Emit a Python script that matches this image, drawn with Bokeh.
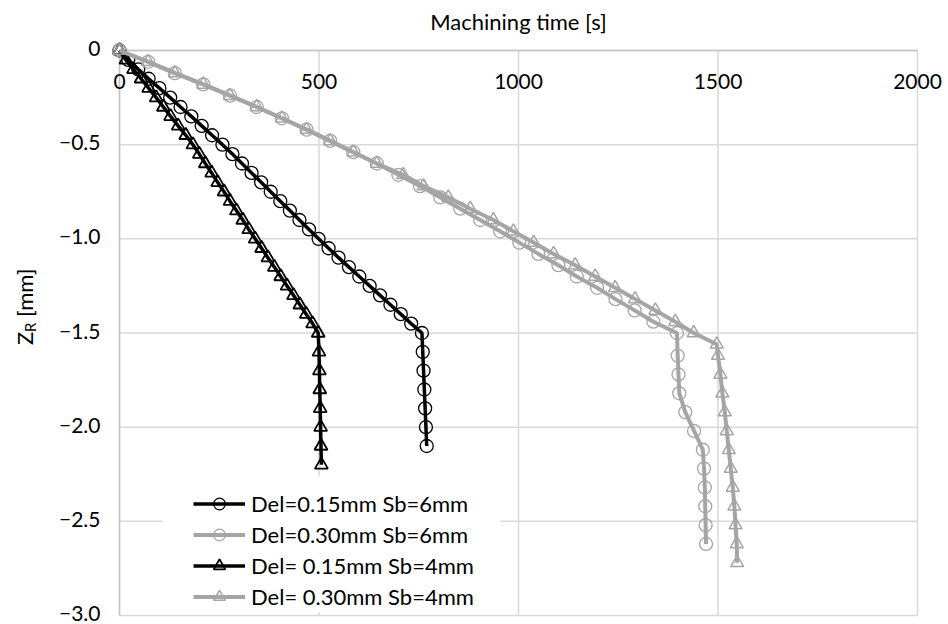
from math import pi

from bokeh.core.properties import value
from bokeh.embed import file_html
from bokeh.models import (BoxAnnotation, ColumnDataSource, Label, LabelSet,
                          Legend, LegendItem, Range1d)
from bokeh.plotting import figure
from bokeh.resources import INLINE

# ---- data: depth Z_R [mm] versus machining time [s] ----
# Del=0.15mm Sb=6mm
z_015_sb6 = [0.00, -0.05, -0.10, -0.15, -0.20, -0.25, -0.30, -0.35, -0.40, -0.45,
             -0.50, -0.55, -0.60, -0.65, -0.70, -0.75, -0.80, -0.85, -0.90, -0.95,
             -1.00, -1.05, -1.10, -1.15, -1.20, -1.25, -1.30, -1.35, -1.40, -1.45,
             -1.50, -1.60, -1.70, -1.80, -1.90, -2.00, -2.10]
t_015_sb6 = [0, 22, 47, 73, 100, 127, 153, 180, 206, 232,
             258, 283, 307, 331, 355, 379, 403, 427, 451, 475,
             499, 524, 549, 575, 601, 627, 653, 679, 705, 731,
             758, 760, 762, 764, 766, 768, 770]

# Del=0.30mm Sb=6mm
z_030_sb6 = [0.00, -0.06, -0.12, -0.18, -0.24, -0.30, -0.36, -0.42, -0.48, -0.54,
             -0.60, -0.66, -0.72, -0.78, -0.84, -0.90, -0.96, -1.02, -1.08, -1.14,
             -1.20, -1.26, -1.32, -1.38, -1.44, -1.50, -1.62, -1.72, -1.82, -1.92,
             -2.02, -2.12, -2.22, -2.32, -2.42, -2.52, -2.62]
t_030_sb6 = [0, 72, 139, 210, 277, 344, 407, 469, 528, 586,
             645, 699, 753, 804, 854, 904, 954, 1002, 1050, 1100,
             1146, 1197, 1243, 1291, 1338, 1397, 1399, 1401, 1403, 1418,
             1440, 1462, 1465, 1467, 1468, 1469, 1470]

# Del= 0.15mm Sb=4mm
z_015_sb4 = [0.00, -0.05, -0.10, -0.15, -0.20, -0.25, -0.30, -0.35, -0.40, -0.45,
             -0.50, -0.55, -0.60, -0.65, -0.70, -0.75, -0.80, -0.85, -0.90, -0.95,
             -1.00, -1.05, -1.10, -1.15, -1.20, -1.25, -1.30, -1.35, -1.40, -1.45,
             -1.50, -1.60, -1.70, -1.80, -1.90, -2.00, -2.10, -2.20]
t_015_sb4 = [0, 16, 35, 54, 73, 92, 110, 128, 147, 166,
             184, 200, 215, 231, 246, 262, 277, 293, 309, 324,
             340, 356, 372, 388, 404, 420, 436, 452, 468, 484,
             498, 500, 501, 502, 503, 504, 505, 506]

# Del= 0.30mm Sb=4mm
z_030_sb4 = [0.00, -0.06, -0.12, -0.18, -0.24, -0.30, -0.36, -0.42, -0.48, -0.54,
             -0.60, -0.66, -0.72, -0.78, -0.84, -0.90, -0.96, -1.02, -1.08, -1.14,
             -1.20, -1.26, -1.32, -1.38, -1.44, -1.50, -1.56, -1.62, -1.72, -1.82,
             -1.92, -2.02, -2.12, -2.22, -2.32, -2.42, -2.52, -2.62, -2.72]
t_030_sb4 = [0, 72, 139, 210, 277, 344, 407, 469, 528, 586,
             645, 711, 762, 824, 879, 937, 987, 1038, 1088, 1142,
             1192, 1242, 1292, 1343, 1393, 1439, 1497, 1500, 1506, 1511,
             1517, 1522, 1527, 1532, 1537, 1541, 1544, 1547, 1548]

series_names = ["Del=0.15mm Sb=6mm", "Del=0.30mm Sb=6mm",
                "Del= 0.15mm Sb=4mm", "Del= 0.30mm Sb=4mm"]

x_ticks = [0, 500, 1000, 1500, 2000]
x_tick_labels = ["0", "500", "1000", "1500", "2000"]
y_ticks = [0.0, -0.5, -1.0, -1.5, -2.0, -2.5, -3.0]
y_tick_labels = ["0", "\u22120.5", "\u22121.0", "\u22121.5", "\u22122.0", "\u22122.5", "\u22123.0"]

x_title = "Machining time [s]"

# ---- layout (pixels) ----
W, H = 948, 624
PL, PR, PT, PB = 119, 917, 50, 615          # plotting area inside the canvas
X_MIN, X_MAX = min(x_ticks), max(x_ticks)
Y_MIN, Y_MAX = min(y_ticks), max(y_ticks)
sx = (X_MAX - X_MIN) / (PR - PL)             # seconds per pixel
sy = (Y_MAX - Y_MIN) / (PB - PT)             # mm per pixel

FONT = "Lato"
FS = "21px"
BLACK = "#000000"
GREY = "#A5A5A5"
GRID = "#D9D9D9"
AXIS = "#C4C4C4"

# the frame covers the whole canvas so that every text stays unclipped;
# the ranges are widened so the data area lands on PL..PR x PT..PB
p = figure(width=W, height=H,
           x_range=Range1d(X_MIN - PL * sx, X_MAX + (W - PR) * sx),
           y_range=Range1d(Y_MIN - (H - PB) * sy, Y_MAX + PT * sy),
           x_axis_location=None, y_axis_location=None,
           output_backend="svg", toolbar_location=None,
           min_border=0)
p.outline_line_color = None
p.xgrid.visible = False
p.ygrid.visible = False

# gridlines
n_x, n_y = len(x_ticks), len(y_ticks)
p.segment(x0=x_ticks, x1=x_ticks, y0=[Y_MIN] * n_x, y1=[Y_MAX] * n_x,
          line_color=GRID, line_width=1.5, level="image")
p.segment(x0=[X_MIN] * n_y, x1=[X_MAX] * n_y, y0=y_ticks, y1=y_ticks,
          line_color=GRID, line_width=1.5, level="image")
# axis lines: value axis at t=0, time axis crossing at Z=0
p.segment(x0=[X_MIN], x1=[X_MIN], y0=[Y_MIN], y1=[Y_MAX],
          line_color=AXIS, line_width=1.5, level="image")
p.segment(x0=[X_MIN], x1=[X_MAX], y0=[Y_MAX], y1=[Y_MAX],
          line_color=AXIS, line_width=1.5, level="image")

# white box behind the legend hides the gridline there
p.add_layout(BoxAnnotation(left=162, right=500, bottom=H - 612, top=H - 476,
                           left_units="screen", right_units="screen",
                           bottom_units="screen", top_units="screen",
                           fill_color="white", fill_alpha=1.0,
                           line_color=None, level="underlay"))

styles = [
    (t_015_sb6, z_015_sb6, BLACK, 3.5, "circle", 13, 1.3),
    (t_030_sb6, z_030_sb6, GREY, 4.0, "circle", 13, 1.3),
    (t_015_sb4, z_015_sb4, BLACK, 3.5, "triangle", 13, 1.8),
    (t_030_sb4, z_030_sb4, GREY, 4.0, "triangle", 13, 1.5),
]

items = []
for name, (t, z, color, lw, marker, size, mlw) in zip(series_names, styles):
    src = ColumnDataSource(dict(t=t, z=z))
    ln = p.line("t", "z", source=src, line_color=color, line_width=lw)
    sc = p.scatter("t", "z", source=src, marker=marker, size=size,
                   line_color=color, line_width=mlw, fill_color=None)
    items.append(LegendItem(label=name, renderers=[ln, sc]))

legend = Legend(items=items, location=(193, H - 611), padding=0, margin=0, spacing=2,
                glyph_width=52, glyph_height=29, label_height=29, label_standoff=6,
                label_text_font=FONT, label_text_font_size="22px", label_text_color="#000000",
                background_fill_alpha=0.0, border_line_color=None)
p.add_layout(legend)

# tick labels of the time axis sit just below the Z=0 line
xsrc = ColumnDataSource(dict(x=x_ticks, y=[Y_MAX] * n_x, text=x_tick_labels))
p.add_layout(LabelSet(x="x", y="y", text="text", source=xsrc, y_offset=-31,
                      text_align="center", text_baseline="middle",
                      text_font=value(FONT), text_font_size=FS, text_color="#000000"))

ysrc = ColumnDataSource(dict(x=[X_MIN] * n_y, y=y_ticks, text=y_tick_labels))
p.add_layout(LabelSet(x="x", y="y", text="text", source=ysrc, x_offset=-19, y_offset=2,
                      text_align="right", text_baseline="middle",
                      text_font=value(FONT), text_font_size=FS, text_color="#000000"))

# axis titles
p.add_layout(Label(x=(X_MIN + X_MAX) / 2, y=Y_MAX, y_offset=29, text=x_title,
                   text_align="center", text_baseline="middle",
                   text_font=FONT, text_font_size="22px", text_color="#000000"))

# "Z" with subscript "R", then "[mm]", reading upwards
p.add_layout(Label(x=X_MIN, y=-1.5, x_offset=-95, y_offset=-12, angle=pi / 2, text="Z",
                   text_align="left", text_baseline="alphabetic",
                   text_font=FONT, text_font_size="22px", text_color="#000000"))
p.add_layout(Label(x=X_MIN, y=-1.5, x_offset=-90, y_offset=1, angle=pi / 2, text="R",
                   text_align="left", text_baseline="alphabetic",
                   text_font=FONT, text_font_size="15px", text_color="#000000"))
p.add_layout(Label(x=X_MIN, y=-1.5, x_offset=-95, y_offset=16, angle=pi / 2, text="[mm]",
                   text_align="left", text_baseline="alphabetic",
                   text_font=FONT, text_font_size="22px", text_color="#000000"))

open("out.html", "w").write(file_html(p, INLINE))
